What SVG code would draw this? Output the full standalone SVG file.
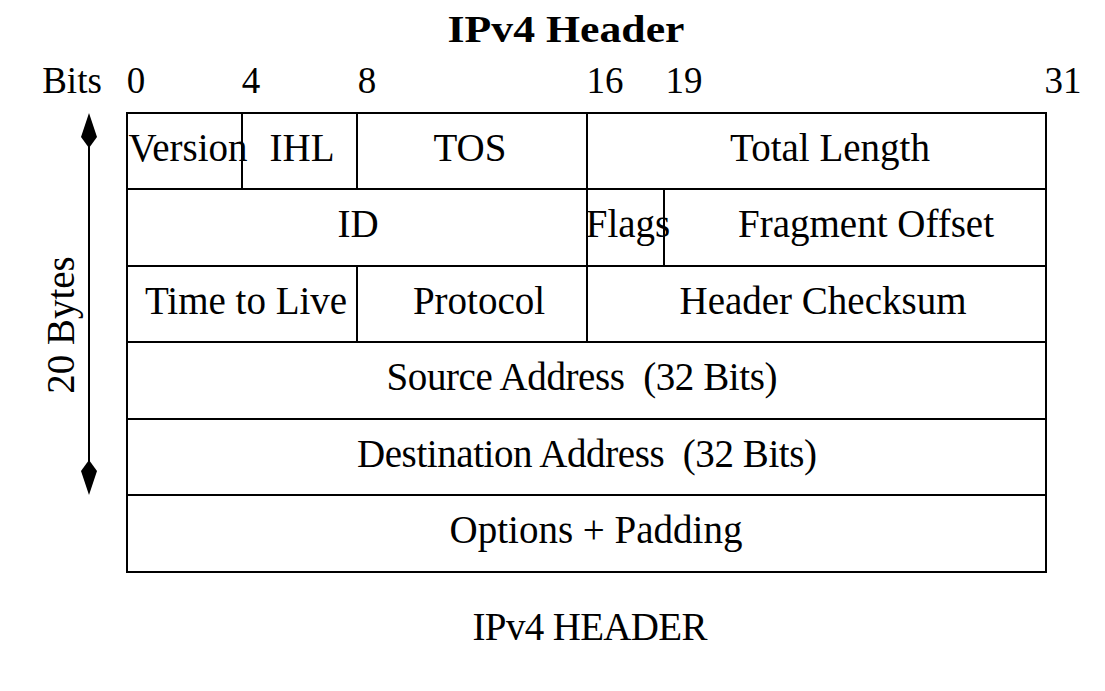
<svg xmlns="http://www.w3.org/2000/svg" width="1105" height="691" viewBox="0 0 1105 691">
  <style>
    .t { font-family: "Liberation Serif", "Times New Roman", serif; font-size: 39px; fill: #000; text-anchor: middle; }
    .lbl { font-family: "Liberation Serif", "Times New Roman", serif; font-size: 37px; fill: #000; text-anchor: middle; }
    .title { font-family: "Liberation Serif", "Times New Roman", serif; font-size: 37px; font-weight: bold; fill: #000; text-anchor: middle; }
    .cell { fill: none; stroke: #000; stroke-width: 2; }
    .rule { stroke: #000; stroke-width: 2; fill: none; }
  </style>

  <rect width="1105" height="691" fill="#fff"/>

  <!-- heading -->
  <text id="title" class="title" x="566" y="42" textLength="237" lengthAdjust="spacingAndGlyphs">IPv4 Header</text>

  <!-- bit ruler -->
  <g id="bit-ruler">
    <text class="lbl" x="72" y="93">Bits</text>
    <text class="lbl" x="136" y="93">0</text>
    <text class="lbl" x="251" y="93">4</text>
    <text class="lbl" x="367" y="93">8</text>
    <text class="lbl" x="605" y="93">16</text>
    <text class="lbl" x="684" y="93">19</text>
    <text class="lbl" x="1063" y="93">31</text>
  </g>

  <!-- row 1 -->
  <g id="version">
    <rect class="cell" x="127" y="113" width="115" height="76"/>
    <text class="t" x="188" y="161">Version</text>
  </g>
  <g id="ihl">
    <rect class="cell" x="242" y="113" width="115" height="76"/>
    <text class="t" x="302" y="161">IHL</text>
  </g>
  <g id="tos">
    <rect class="cell" x="357" y="113" width="230" height="76"/>
    <text class="t" x="470" y="161">TOS</text>
  </g>
  <g id="total-length">
    <rect class="cell" x="587" y="113" width="459" height="76"/>
    <text class="t" x="830" y="161">Total Length</text>
  </g>

  <!-- row 2 -->
  <g id="id">
    <rect class="cell" x="127" y="189" width="460" height="77"/>
    <text class="t" x="358" y="237">ID</text>
  </g>
  <g id="flags">
    <rect class="cell" x="587" y="189" width="77" height="77"/>
    <text class="t" x="628" y="237">Flags</text>
  </g>
  <g id="fragment-offset">
    <rect class="cell" x="664" y="189" width="382" height="77"/>
    <text class="t" x="866" y="237">Fragment Offset</text>
  </g>

  <!-- row 3 -->
  <g id="ttl">
    <rect class="cell" x="127" y="266" width="230" height="76"/>
    <text class="t" x="246" y="314">Time to Live</text>
  </g>
  <g id="protocol">
    <rect class="cell" x="357" y="266" width="230" height="76"/>
    <text class="t" x="479" y="314">Protocol</text>
  </g>
  <g id="header-checksum">
    <rect class="cell" x="587" y="266" width="459" height="76"/>
    <text class="t" x="823" y="314">Header Checksum</text>
  </g>

  <!-- rows 4-6 -->
  <g id="source-address">
    <rect class="cell" x="127" y="342" width="919" height="77"/>
    <text class="t" x="582" y="390" xml:space="preserve" textLength="391">Source Address  (32 Bits)</text>
  </g>
  <g id="destination-address">
    <rect class="cell" x="127" y="419" width="919" height="76"/>
    <text class="t" x="587" y="467" xml:space="preserve" textLength="460">Destination Address  (32 Bits)</text>
  </g>
  <g id="options">
    <rect class="cell" x="127" y="495" width="919" height="77"/>
    <text class="t" x="596" y="543">Options + Padding</text>
  </g>

  <!-- 20-byte span indicator -->
  <g id="connectors">
    <line class="rule" x1="89" y1="140" x2="89" y2="468"/>
    <polygon points="89,113 97,137 89,148 81,137" fill="#000"/>
    <polygon points="89,495 97,471 89,460 81,471" fill="#000"/>
  </g>
  <text id="bytes-label" class="t" transform="translate(74,325) rotate(-90)" x="0" y="0">20 Bytes</text>

  <!-- caption -->
  <text id="caption" class="t" x="590" y="640" textLength="235">IPv4 HEADER</text>
</svg>
